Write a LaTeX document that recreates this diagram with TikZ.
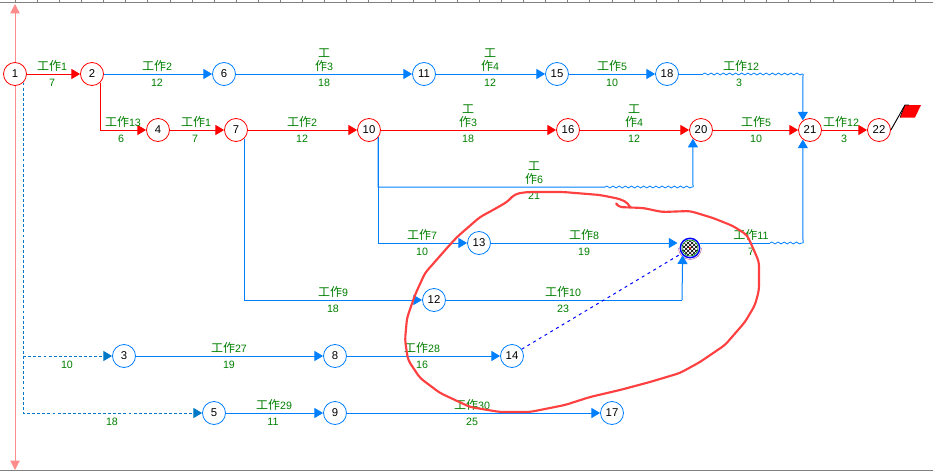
\documentclass[tikz,border=0pt]{standalone}
\usepackage{fontspec}
\setmainfont{Liberation Sans}
\newfontfamily\cjk{Noto Sans CJK SC}
\usetikzlibrary{arrows.meta,decorations.pathmorphing,patterns,calc}
\definecolor{cpblue}{RGB}{0,128,255}
\definecolor{dkblue}{RGB}{0,120,200}
\definecolor{lblgreen}{RGB}{0,128,0}
\definecolor{axispink}{RGB}{255,140,140}
\newcommand{\wk}[1]{{\cjk\fontsize{9}{9.6}\selectfont 工作}#1}
\newcommand{\wks}[1]{{\cjk\fontsize{9}{9.6}\selectfont 工}\\{\cjk\fontsize{9}{9.6}\selectfont 作}#1}
\tikzset{
  x=0.75pt,y=-0.75pt,
  ev/.style={circle,draw,line width=0.6pt,fill=white,minimum size=17.25pt,inner sep=0pt,font=\fontsize{8.5}{9}\selectfont},
  evr/.style={ev,draw=red},
  evb/.style={ev,draw=cpblue},
  tip/.style={-{Triangle[length=6.5pt,width=7.5pt]}},
  rline/.style={red,line width=0.75pt},
  bline/.style={cpblue,line width=0.75pt},
  dline/.style={dkblue,line width=0.75pt,dash pattern=on 2.2pt off 1.6pt},
  wave/.style={cpblue,line width=0.6pt,decorate,decoration={snake,amplitude=0.7pt,segment length=4.6pt}},
  lab/.style={text=lblgreen,inner sep=0pt,font=\fontsize{8}{9.6}\selectfont,align=center},
  ruler/.style={gray,line width=0.75pt},
}
\begin{document}
\begin{tikzpicture}
\useasboundingbox (0,0) rectangle (933,471);
\fill[white] (0,0) rectangle (933,471);
% ruler and frame
\coordinate (rl) at (0,2.5); \coordinate (rr) at (933,2.5);
\coordinate (bl) at (0,470); \coordinate (br) at (933,470);
\draw[ruler] (rl) -- (rr);
\draw[ruler] (bl) -- (br);
\foreach \k in {0,...,37}
  \draw[ruler] ({15.3+22.1*\k},0) -- ({15.3+22.1*\k},2.5);
\foreach \t in {893,915}
  \draw[ruler] (\t,0) -- (\t,2.5);
% axis
\coordinate (axt) at (15,4); \coordinate (axb) at (15,470);
\draw[axispink,line width=0.75pt,{Triangle[length=7pt,width=7pt]}-{Triangle[length=7pt,width=7pt]}] (axt) -- (axb);
% nodes
\node[evr] (n1) at (15,74) {1};
\node[evr] (n2) at (92,74) {2};
\node[evb] (n6) at (224,74) {6};
\node[evb] (n11) at (424,74) {11};
\node[evb] (n15) at (557,74) {15};
\node[evb] (n18) at (667,74) {18};
\node[evr] (n4) at (158,130) {4};
\node[evr] (n7) at (236,130) {7};
\node[evr] (n10) at (369,130) {10};
\node[evr] (n16) at (568,130) {16};
\node[evr] (n20) at (701,130) {20};
\node[evr] (n21) at (810,130) {21};
\node[evr] (n22) at (879,130) {22};
\node[evb] (n13) at (479,243) {13};
\node[evb] (n12) at (434,300) {12};
\node[evb] (n3) at (124,356) {3};
\node[evb] (n8) at (335,356) {8};
\node[evb] (n14) at (512,356) {14};
\node[evb] (n5) at (214,413) {5};
\node[evb] (n9) at (335,413) {9};
\node[evb] (n17) at (612,413) {17};
% special node (selected)
\node[circle,minimum size=14.5pt,inner sep=0pt,draw=blue,line width=1.1pt,fill=white] (sp) at (690,248) {};
\fill[pattern=crosshatch,pattern color=black] (sp.center) circle (7.4);
\fill[pattern=crosshatch dots,pattern color=black] (sp.center) circle (7.4);
\draw[lblgreen,line width=0.5pt] (sp.center) circle (8);
\fill[red] (sp.center) circle (1.2);
\draw[violet!50!pink,line width=0.4pt] ($(sp.center)+(-11.5,0)$) arc (180:0:11.5);
% red critical path
\draw[rline,tip] (n1) -- (n2);
\draw[rline,tip] (n2.-46) |- (n4);
\draw[rline,tip] (n4) -- (n7);
\draw[rline,tip] (n7) -- (n10);
\draw[rline,tip] (n10) -- (n16);
\draw[rline,tip] (n16) -- (n20);
\draw[rline,tip] (n20) -- (n21);
\draw[rline,tip] (n21) -- (n22);
% blue arrows
\draw[bline,tip] (n2) -- (n6);
\draw[bline,tip] (n6) -- (n11);
\draw[bline,tip] (n11) -- (n15);
\draw[bline,tip] (n15) -- (n18);
\coordinate (w1) at (703,74); \coordinate (w2) at (803,74);
\draw[bline] (n18) -- (w1);
\draw[wave] (w1) -- (w2);
\draw[bline,tip] (w2) -- (n21.127.5);
\coordinate (w3) at (378,187); \coordinate (w4) at (605,187); \coordinate (w5) at (693,187);
\draw[bline] (n10.-39) -- (w3) -- (w4);
\draw[wave] (w4) -- (w5);
\draw[bline,tip] (w5) -- (n20.-133);
\draw[bline,tip] (n10.-39) |- (n13);
\coordinate (spw) at (677.5,243);
\draw[bline,tip] (n13) -- (spw);
\coordinate (w6) at (770,243); \coordinate (w7) at (803,243);
\draw[bline] (sp.east |- n13) -- (w6);
\draw[wave] (w6) -- (w7);
\draw[bline,tip] (w7) -- (n21.-127.5);
\draw[bline,tip] (n7.-46) |- (n12);
\coordinate (w8) at (682,300);
\draw[bline] (n12) -- (w8);
\draw[bline,tip] (w8) -- (sp.-135);
\draw[bline,tip] (n3) -- (n8);
\draw[bline,tip] (n8) -- (n14);
\draw[bline,tip] (n5) -- (n9);
\draw[bline,tip] (n9) -- (n17);
% dashed dummy works
\draw[dline,tip] (n1.-46) |- (n5);
\coordinate (d3) at (n1.-46 |- n3);
\draw[dline,tip] (d3) -- (n3);
\draw[blue,line width=0.75pt,dash pattern=on 2.2pt off 2.8pt] (n14.35) -- (sp.-147);
% flag
\coordinate (f1) at (905,105); \coordinate (f2) at (921,105); \coordinate (f3) at (915,117.5); \coordinate (f4) at (900,117.5);
\draw[black,line width=0.7pt] (n22.0) -- (f1);
\fill[red] (f1) -- (f2) -- (f3) -- (f4) -- cycle;
\draw[black,line width=0.4pt] (f4) -- (f1) -- ++(4,0);
% labels
\node[lab] (a1) at (52,66) {\wk{1}}; \node[lab] (b1) at (52,83) {7};
\node[lab] (a2) at (157,66) {\wk{2}}; \node[lab] (b2) at (157,83) {12};
\node[lab,anchor=south] (a3) at (324,72) {\wks{3}}; \node[lab] (b3) at (324,83) {18};
\node[lab,anchor=south] (a4) at (490,72) {\wks{4}}; \node[lab] (b4) at (490,83) {12};
\node[lab] (a5) at (612,66) {\wk{5}}; \node[lab] (b5) at (612,83) {10};
\node[lab] (a6) at (741,66) {\wk{12}}; \node[lab] (b6) at (739,83) {3};
\node[lab] (a7) at (123,122) {\wk{13}}; \node[lab] (b7) at (121,139) {6};
\node[lab] (a8) at (196,122) {\wk{1}}; \node[lab] (b8) at (195,139) {7};
\node[lab] (a9) at (302,122) {\wk{2}}; \node[lab] (b9) at (302,139) {12};
\node[lab,anchor=south] (a10) at (468,128) {\wks{3}}; \node[lab] (b10) at (468,139) {18};
\node[lab,anchor=south] (a11) at (634,128) {\wks{4}}; \node[lab] (b11) at (634,139) {12};
\node[lab] (a12) at (756,122) {\wk{5}}; \node[lab] (b12) at (756,139) {10};
\node[lab] (a13) at (841,122) {\wk{12}}; \node[lab] (b13) at (844,139) {3};
\node[lab,anchor=south] (a14) at (534,185) {\wks{6}}; \node[lab] (b14) at (534,196) {21};
\node[lab] (a15) at (422,235) {\wk{7}}; \node[lab] (b15) at (422,252) {10};
\node[lab] (a16) at (584,235) {\wk{8}}; \node[lab] (b16) at (584,252) {19};
\node[lab] (a17) at (751,235) {\wk{11}}; \node[lab] (b17) at (751,252) {7};
\node[lab] (a18) at (333,292) {\wk{9}}; \node[lab] (b18) at (333,309) {18};
\node[lab] (a19) at (563,292) {\wk{10}}; \node[lab] (b19) at (563,309) {23};
\node[lab] (a20) at (229,348) {\wk{27}}; \node[lab] (b20) at (229,365) {19};
\node[lab] (a21) at (422,348) {\wk{28}}; \node[lab] (b21) at (422,365) {16};
\node[lab] (a22) at (274,405) {\wk{29}}; \node[lab] (b22) at (273,422) {11};
\node[lab] (a23) at (472,405) {\wk{30}}; \node[lab] (b23) at (472,422) {25};
\node[lab] (b24) at (67,365) {10};
\node[lab] (b25) at (112,422) {18};
% freehand annotation
\draw[red!75!white,line width=1.6pt,line join=round,line cap=round,rounded corners=3pt]
 (630,207) -- (628,203) -- (620,199) -- (600,195) -- (563,192) -- (527,192) -- (515,194) -- (507,202) -- (493,210) -- (480,217) -- (457,237) -- (447,248) -- (425,273) -- (415,295) -- (407,318) -- (405,340) -- (408,360) -- (420,378) -- (440,393) -- (470,407) -- (500,412) -- (530,412) -- (565,405) -- (590,397) -- (620,390) -- (650,382) -- (680,373) -- (700,362) -- (725,345) -- (745,322) -- (755,305) -- (759,290) -- (759,262) -- (753,248) -- (747,235) -- (733,226) -- (713,218) -- (690,211) -- (662,212) -- (648,209) -- (643,208) -- (618,207) -- (617,205);
\end{tikzpicture}
\end{document}
